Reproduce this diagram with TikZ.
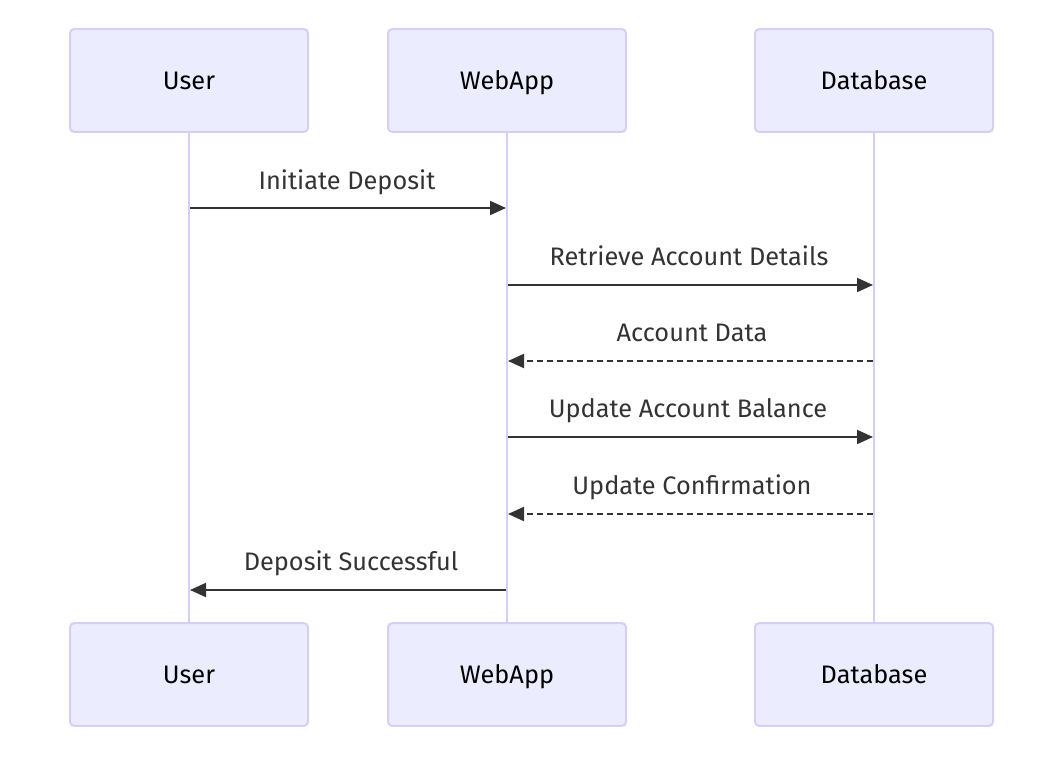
\documentclass[tikz,border=0pt]{standalone}
\usepackage{fontspec}
\setmainfont{Fira Sans}
\usetikzlibrary{arrows.meta}

\definecolor{actorfill}{HTML}{ECECFF}
\definecolor{actorline}{HTML}{D6CFF5}
\definecolor{msgline}{HTML}{333333}

\tikzset{
    actor/.style={draw=actorline, fill=actorfill, line width=1.5pt, rounded corners=3pt,
        minimum width=178.5pt, minimum height=77pt, inner sep=0pt,
        font=\fontsize{19}{22}\selectfont, text height=16pt, text depth=2pt},
    lifeline/.style={draw=actorline, line width=2pt},
    msg/.style={draw=msgline, line width=1.5pt, -{Triangle[length=12pt,width=10.5pt]}},
    reply/.style={msg, dash pattern=on 4.5pt off 3pt},
    msglabel/.style={font=\fontsize{19}{22}\selectfont, text=msgline, text height=16pt, text depth=2pt}
}

\begin{document}
\begin{tikzpicture}[x=0.75pt, y=-0.75pt]
    \useasboundingbox (0,0) rectangle (1064,760);
    % actors
    \node[actor] (user) at (189,80.5) {User};
    \node[actor] (webapp) at (507,80.5) {WebApp};
    \node[actor] (db) at (874,80.5) {Database};
    \node[actor] (userB) at (189,674.5) {User};
    \node[actor] (webappB) at (507,674.5) {WebApp};
    \node[actor] (dbB) at (874,674.5) {Database};
    % lifelines
    \draw[lifeline] (user) -- (userB);
    \draw[lifeline] (webapp) -- (webappB);
    \draw[lifeline] (db) -- (dbB);
    % messages
    \coordinate (u1) at (190,208); \coordinate (w1) at (506,208);
    \coordinate (w2) at (508,285); \coordinate (d2) at (873,285);
    \coordinate (d3) at (873,361); \coordinate (w3) at (508,361);
    \coordinate (w4) at (508,437); \coordinate (d4) at (873,437);
    \coordinate (d5) at (873,514); \coordinate (w5) at (508,514);
    \coordinate (w6) at (506,590); \coordinate (u6) at (190,590);
    \draw[msg] (u1) -- (w1);
    \draw[msg] (w2) -- (d2);
    \draw[reply] (d3) -- (w3);
    \draw[msg] (w4) -- (d4);
    \draw[reply] (d5) -- (w5);
    \draw[msg] (w6) -- (u6);
    % labels
    \node[msglabel] (l1) at (347,180) {Initiate Deposit};
    \node[msglabel] (l2) at (689,256) {Retrieve Account Details};
    \node[msglabel] (l3) at (692,332) {Account Data};
    \node[msglabel] (l4) at (688,408) {Update Account Balance};
    \node[msglabel] (l5) at (692,485) {Update Confirmation};
    \node[msglabel] (l6) at (351,561) {Deposit Successful};
\end{tikzpicture}
\end{document}
